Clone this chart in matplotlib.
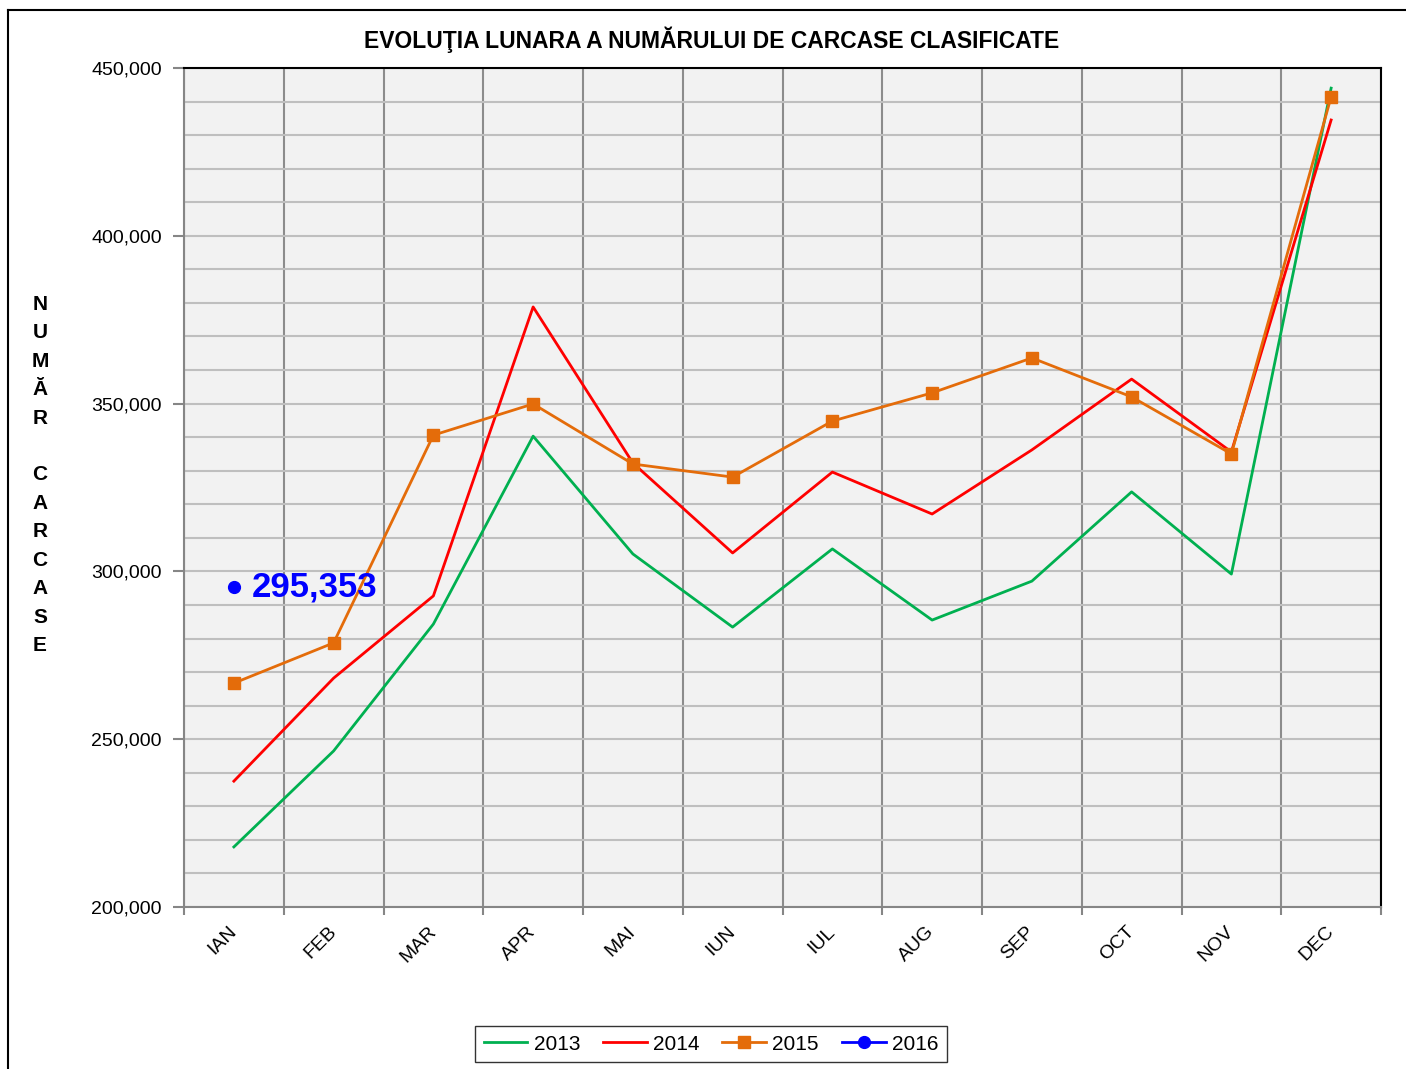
import matplotlib.pyplot as plt
from matplotlib.lines import Line2D
from matplotlib.ticker import FuncFormatter

plt.rcParams['font.family'] = ['Liberation Sans', 'DejaVu Sans']

months = ['IAN', 'FEB', 'MAR', 'APR', 'MAI', 'IUN', 'IUL', 'AUG', 'SEP', 'OCT', 'NOV', 'DEC']
v2013 = [217900, 246500, 284300, 340300, 305200, 283400, 306700, 285500, 297100, 323700, 299200, 444000]
v2014 = [237500, 268200, 292700, 378800, 332300, 305500, 329600, 317100, 336200, 357300, 335600, 434500]
v2015 = [266700, 278700, 340600, 349900, 332000, 328100, 344800, 353200, 363600, 352000, 335000, 441400]
v2016 = [295353]

x = list(range(len(months)))

fig = plt.figure(figsize=(14.06, 10.69), dpi=100)
ax = fig.add_axes([184 / 1406, 1 - 907 / 1069, (1381 - 184) / 1406, (907 - 68) / 1069])
ax.set_facecolor('#f2f2f2')

ax.plot(x, v2013, color='#00b050', lw=2, label='2013')
ax.plot(x, v2014, color='#ff0000', lw=2, label='2014')
ax.plot(x, v2015, color='#e46c0a', lw=2, marker='s', ms=8.5, label='2015')
ax.plot(x[:len(v2016)], v2016, color='#0000ff', lw=2, marker='o', ms=8.5, label='2016')
ax.annotate(f'{v2016[0]:,}', xy=(0, v2016[0]), xytext=(13, 0), textcoords='offset points',
            ha='left', va='center', color='#0000ff', fontsize=25, fontweight='bold')

ax.set_xlim(-0.5, 11.5)
ax.set_ylim(200000, 450000)

# category boundaries as major x ticks, labels at centres
ax.set_xticks([i - 0.5 for i in range(len(months) + 1)])
ax.set_xticklabels([])
ax.set_xticks(x, minor=True)
ax.set_xticklabels(months, minor=True, rotation=45, ha='right', va='center',
                   rotation_mode='anchor', fontsize=14)
ax.tick_params(axis='x', which='major', length=6, color='#868686', width=1.5)
ax.tick_params(axis='x', which='minor', length=0, pad=16)

ax.set_yticks(range(200000, 450001, 50000))
ax.set_yticks(range(200000, 450001, 10000), minor=True)
ax.yaxis.set_major_formatter(FuncFormatter(lambda v, p: f'{int(v):,}'))
ax.tick_params(axis='y', which='major', length=8, color='#868686', width=1.5, labelsize=14, pad=8)
ax.tick_params(axis='y', which='minor', length=0)

ax.grid(True, axis='y', which='both', color='#bfbfbf', lw=1.5)
ax.grid(True, axis='x', which='major', color='#8c8c8c', lw=1.5)
ax.set_axisbelow(True)

for s in ['top', 'right']:
    ax.spines[s].set_color('black')
    ax.spines[s].set_linewidth(1.5)
for s in ['left', 'bottom']:
    ax.spines[s].set_color('#868686')
    ax.spines[s].set_linewidth(1.5)

fig.text(712 / 1406, 1 - 40 / 1069, 'EVOLUŢIA LUNARA A NUMĂRULUI DE CARCASE CLASIFICATE',
         ha='center', va='center', fontsize=16.5, fontweight='bold')

ylab = '\n'.join(list('NUMĂR') + [' '] + list('CARCASE'))
fig.text(40 / 1406, 1 - 475 / 1069, ylab, ha='center', va='center', fontsize=15,
         fontweight='bold', linespacing=1.63)

fig.legend(loc='center', bbox_to_anchor=(711 / 1406, 1 - 1044 / 1069), ncol=4,
           fontsize=15, frameon=True, fancybox=False, edgecolor='black',
           handlelength=2.1, columnspacing=1.1, handletextpad=0.3, borderpad=0.4)

# outer chart border
fig.add_artist(Line2D([8 / 1406, 8 / 1406], [0, 1 - 10 / 1069], color='black', lw=1.5))
fig.add_artist(Line2D([8 / 1406, 1], [1 - 10 / 1069, 1 - 10 / 1069], color='black', lw=1.5))

fig.savefig('out.png', dpi=100)
